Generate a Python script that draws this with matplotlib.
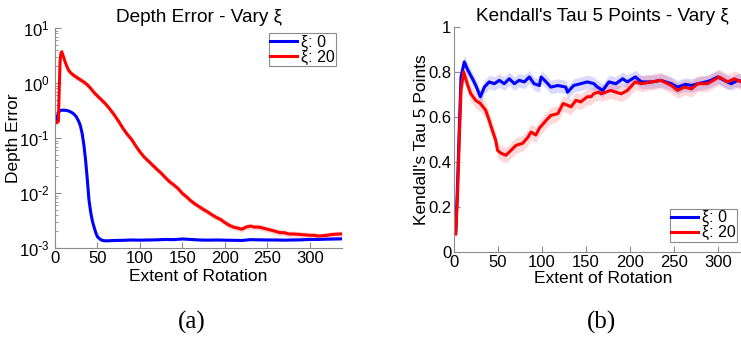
import numpy as np
import matplotlib
matplotlib.use("Agg")
import matplotlib.pyplot as plt
from matplotlib.ticker import LogLocator, NullFormatter, FixedLocator

plt.rcParams['font.family'] = ['Liberation Sans', 'DejaVu Sans']
plt.rcParams['mathtext.default'] = 'regular'

# ---------------- data: (a) Depth Error ----------------
a_blue_x = [0, 2, 4, 6, 8, 10, 13, 16, 19, 22, 25, 28, 30, 32, 34, 36, 38, 40, 42, 44, 46, 48, 50, 53, 56, 60,
            70, 80, 90, 100, 110, 120, 130, 140, 150, 160, 170, 180, 190, 200, 210, 220, 230, 240, 250,
            260, 270, 280, 290, 300, 310, 320, 330, 338]
a_blue_y = [0.2, 0.22, 0.29, 0.315, 0.32, 0.32, 0.318, 0.31, 0.295, 0.275, 0.245, 0.2, 0.165, 0.12, 0.075, 0.04,
            0.018, 0.0075, 0.0045, 0.0031, 0.0024, 0.0019, 0.0016, 0.00145, 0.00137, 0.00135,
            0.00137, 0.00138, 0.0014, 0.00139, 0.0014, 0.00141, 0.00143, 0.00142, 0.00146, 0.00143, 0.0014,
            0.00139, 0.0014, 0.00139, 0.00138, 0.00137, 0.00142, 0.00141, 0.0014, 0.0014, 0.00139, 0.0014,
            0.00141, 0.00143, 0.00143, 0.00145, 0.00146, 0.00147]

a_red_x = [0, 2, 4, 5, 6, 7, 8, 10, 12, 14, 16, 19, 22, 26, 30, 34, 38, 42, 46, 50, 55, 60, 65, 70, 75, 80, 85,
           90, 95, 100, 105, 110, 115, 120, 125, 130, 135, 140, 145, 150, 155, 160, 165, 170, 175, 180, 185,
           190, 195, 200, 205, 210, 215, 220, 225, 230, 235, 240, 245, 250, 255, 260, 265, 270, 275, 280,
           285, 290, 295, 300, 305, 310, 315, 320, 325, 330, 338]
a_red_y = [0.2, 0.19, 0.2, 0.8, 2.5, 3.5, 3.7, 3.0, 2.4, 2.0, 1.7, 1.5, 1.38, 1.25, 1.14, 1.04, 0.93, 0.8, 0.67,
           0.58, 0.49, 0.41, 0.33, 0.26, 0.2, 0.15, 0.117, 0.095, 0.072, 0.056, 0.045, 0.038, 0.032, 0.027,
           0.023, 0.019, 0.016, 0.014, 0.012, 0.0098, 0.0085, 0.0072, 0.0063, 0.0056, 0.005, 0.0045, 0.004,
           0.0036, 0.0033, 0.0029, 0.0026, 0.0024, 0.0023, 0.0022, 0.0024, 0.0025, 0.0024, 0.0024, 0.0023,
           0.0022, 0.0021, 0.002, 0.0019, 0.0019, 0.0018, 0.0018, 0.00178, 0.00175, 0.00173, 0.0017, 0.0017,
           0.00165, 0.00167, 0.0017, 0.00175, 0.00178, 0.0018]

# ---------------- data: (b) Kendall's Tau ----------------
b_blue_x = [2, 4, 6, 8, 11.7, 15.5, 21, 24.8, 30, 34.5, 40, 45.8, 51.5, 57, 62.9, 68.6, 74, 80, 85.6, 91, 97,
            99, 104.7, 110, 118, 127, 129, 136, 144, 151.5, 159, 163, 169, 176, 184, 191.7, 197, 206, 213,
            225, 235, 247, 254, 263, 270, 277, 286.7, 292, 299.6, 307, 315, 322.7, 330, 338]
b_blue_y = [0.09, 0.3, 0.55, 0.78, 0.845, 0.81, 0.77, 0.74, 0.69, 0.733, 0.756, 0.748, 0.763, 0.748, 0.77,
            0.748, 0.763, 0.756, 0.778, 0.748, 0.74, 0.778, 0.756, 0.733, 0.74, 0.733, 0.71, 0.74, 0.748,
            0.756, 0.748, 0.733, 0.718, 0.756, 0.748, 0.77, 0.756, 0.778, 0.756, 0.756, 0.763, 0.748, 0.733,
            0.745, 0.74, 0.748, 0.756, 0.763, 0.778, 0.763, 0.748, 0.763, 0.755, 0.76]

b_red_x = [2, 4, 6, 8, 11, 15, 19, 24.6, 30, 36, 40, 43.6, 47.4, 49.5, 53, 59, 64.8, 70.5, 78, 84, 87.5, 93,
           97, 104.7, 110, 118, 124, 129, 133, 138.6, 144, 151.5, 155.7, 159, 165, 167, 178, 190, 197, 206,
           213, 225, 235, 247, 254, 262, 270, 277, 288, 301.5, 311, 318.6, 326, 338]
b_red_y = [0.08, 0.25, 0.5, 0.72, 0.80, 0.748, 0.704, 0.674, 0.66, 0.63, 0.585, 0.54, 0.497, 0.452, 0.44,
           0.43, 0.452, 0.474, 0.483, 0.51, 0.533, 0.52, 0.55, 0.585, 0.607, 0.615, 0.66, 0.652, 0.645,
           0.674, 0.667, 0.69, 0.69, 0.704, 0.711, 0.703, 0.718, 0.703, 0.718, 0.756, 0.748, 0.756, 0.763,
           0.74, 0.718, 0.733, 0.725, 0.748, 0.748, 0.778, 0.756, 0.77, 0.756, 0.765]

a_xticks = [0, 50, 100, 150, 200, 250, 300]
a_yticks = [1e-3, 1e-2, 1e-1, 1e0, 1e1]
a_yticklabels = [r'$10^{\text{-}3}$', r'$10^{\text{-}2}$', r'$10^{\text{-}1}$', r'$10^{0}$', r'$10^{1}$']
b_yticks = [0, 0.2, 0.4, 0.6, 0.8, 1]
b_yticklabels = ['0', '0.2', '0.4', '0.6', '0.8', '1']
legend_labels = ['ξ: 0', 'ξ: 20']

BLUE = (0, 0, 1)
RED = (1, 0, 0)
GRAY = '#8c8c8c'
W, H = 741, 341
TICK_FS = 12
LABEL_FS = 12.5
TITLE_FS = 13.7

fig = plt.figure(figsize=(W / 100, H / 100), dpi=100)

def style(ax):
    for s in ['top', 'right']:
        ax.spines[s].set_visible(False)
    for s in ['left', 'bottom']:
        ax.spines[s].set_color(GRAY)
        ax.spines[s].set_linewidth(0.8)
    ax.tick_params(which='both', direction='in', color=GRAY, labelsize=TICK_FS, pad=2)
    ax.tick_params(which='major', length=4)
    ax.tick_params(which='minor', length=2)

legend_kw = dict(borderaxespad=0, fontsize=11.5, labelspacing=0.0, handlelength=1.7, handletextpad=0.2,
                 borderpad=0.1, fancybox=False, edgecolor=GRAY, framealpha=1)

# ---- (a)
ax1 = fig.add_axes([55 / W, 1 - 248 / H, (342 - 55) / W, 220 / H])
style(ax1)
bx = np.array(a_blue_x); by = np.array(a_blue_y)
rx = np.array(a_red_x); ry = np.array(a_red_y)
ax1.fill_between(bx, by * 0.95, by * 1.05, color=BLUE, alpha=0.15, lw=0)
ax1.fill_between(rx, ry * 0.88, ry * 1.13, color=RED, alpha=0.15, lw=0)
ax1.plot(bx, by, color=BLUE, lw=2.2, label=legend_labels[0])
ax1.plot(rx, ry, color=RED, lw=2.2, label=legend_labels[1])
ax1.set_yscale('log')
ax1.set_xlim(0, 338)
ax1.set_ylim(1e-3, 1e1)
ax1.set_xticks(a_xticks)
ax1.yaxis.set_major_locator(FixedLocator(a_yticks))
ax1.set_yticklabels(a_yticklabels)
ax1.yaxis.set_minor_locator(LogLocator(base=10, subs=np.arange(2, 10)))
ax1.yaxis.set_minor_formatter(NullFormatter())
ax1.tick_params(axis='y', pad=4)
ax1.set_title('Depth Error - Vary ξ', fontsize=TITLE_FS, pad=4)
ax1.set_xlabel('Extent of Rotation', fontsize=LABEL_FS, labelpad=2)
ax1.set_ylabel('Depth Error', fontsize=LABEL_FS)
ax1.yaxis.set_label_coords(-0.118, 0.5)
leg1 = ax1.legend(loc='upper right', bbox_to_anchor=(336 / W, 1 - 33 / H), bbox_transform=fig.transFigure,
                  **legend_kw)
leg1.get_frame().set_linewidth(0.8)

# ---- (b)
ax2 = fig.add_axes([454 / W, 1 - 252 / H, 297.4 / W, 225 / H])
style(ax2)
bx = np.array(b_blue_x); by = np.array(b_blue_y)
rx = np.array(b_red_x); ry = np.array(b_red_y)
ax2.fill_between(bx, by - 0.03, by + 0.03, color=BLUE, alpha=0.15, lw=0)
ax2.fill_between(rx, ry - 0.035, ry + 0.035, color=RED, alpha=0.15, lw=0)
ax2.plot(bx, by, color=BLUE, lw=2.2, label=legend_labels[0])
ax2.plot(rx, ry, color=RED, lw=2.2, label=legend_labels[1])
ax2.set_xlim(0, 338)
ax2.set_ylim(0, 1)
ax2.set_xticks(a_xticks)
ax2.set_yticks(b_yticks)
ax2.set_yticklabels(b_yticklabels)
ax2.set_title("Kendall's Tau 5 Points - Vary ξ", fontsize=TITLE_FS, pad=4)
ax2.set_xlabel('Extent of Rotation', fontsize=LABEL_FS, labelpad=1)
ax2.set_ylabel("Kendall's Tau 5 Points", fontsize=LABEL_FS)
ax2.yaxis.set_label_coords(-0.084, 0.5)
leg2 = ax2.legend(loc='lower right', bbox_to_anchor=(737 / W, 1 - 242 / H), bbox_transform=fig.transFigure,
                  **legend_kw)
leg2.get_frame().set_linewidth(0.8)

fig.text(192 / W, 1 - 322 / H, '(a)', family='Liberation Serif', fontsize=18, ha='center', va='center')
fig.text(601 / W, 1 - 322 / H, '(b)', family='Liberation Serif', fontsize=18, ha='center', va='center')

fig.savefig('out.png', dpi=100)
